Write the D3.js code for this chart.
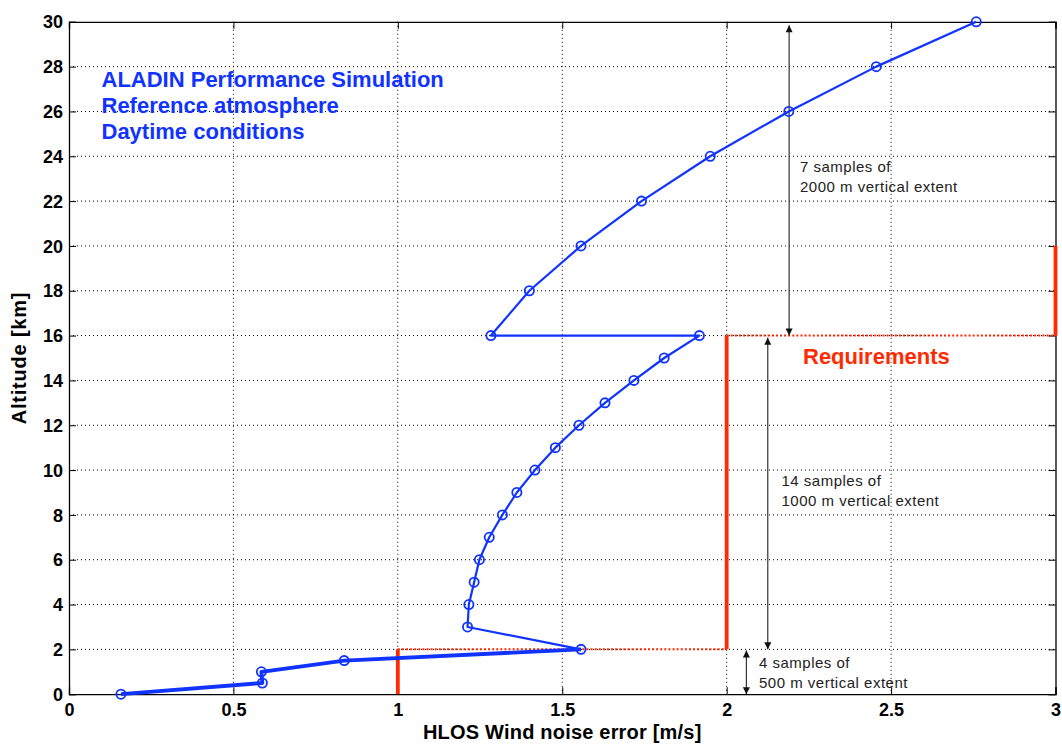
<!DOCTYPE html>
<html>
<head>
<meta charset="utf-8">
<script src="https://cdn.jsdelivr.net/npm/d3@7"></script>
<style>
  html, body { margin: 0; padding: 0; background: #fff; }
  svg { display: block; }
  text { font-family: "Liberation Sans", Arial, sans-serif; }
</style>
</head>
<body>
<svg id="chart" width="1062" height="749"></svg>
<script>
// ---- data ----
const noiseError = [0.158, 0.588, 0.585, 0.837, 1.557, 1.212, 1.216, 1.232, 1.248, 1.278, 1.318, 1.362, 1.417, 1.479, 1.551, 1.630, 1.718, 1.810, 1.917, 1.283, 1.400, 1.557, 1.741, 1.950, 2.189, 2.455, 2.759];
const altitude   = [0, 0.5, 1, 1.5, 2, 3, 4, 5, 6, 7, 8, 9, 10, 11, 12, 13, 14, 15, 16, 16, 18, 20, 22, 24, 26, 28, 30];
const lowRangeCount = 5; // points of the 500 m sampling band (0-2 km)

const reqX = [1, 1, 2, 2, 3, 3];
const reqY = [0, 2, 2, 16, 16, 20];

const xTicks = [0, 0.5, 1, 1.5, 2, 2.5, 3];
const yTicks = [0, 2, 4, 6, 8, 10, 12, 14, 16, 18, 20, 22, 24, 26, 28, 30];

const arrowX    = [2.19, 2.125, 2.06];
const arrowFrom = [16, 2, 0];
const arrowTo   = [29.85, 15.9, 1.95];

const annotationLines = [
  ["7 samples of", "2000 m vertical extent"],
  ["14 samples of", "1000 m vertical extent"],
  ["4 samples of", "500 m vertical extent"]
];
const titleLines = ["ALADIN Performance Simulation", "Reference atmosphere", "Daytime conditions"];
const xLabel = "HLOS Wind noise error [m/s]";
const yLabel = "Altitude [km]";
const reqLabel = "Requirements";

// ---- layout ----
const svg = d3.select("#chart");
const L = 69, R = 1055.5, T = 21.8, B = 694.2;
const x = d3.scaleLinear().domain([0, 3]).range([L, R]);
const y = d3.scaleLinear().domain([0, 30]).range([B, T]);

const BLUE = "#1033ff", RED = "#ff2a00", DARK = "#222";

svg.append("rect").attr("width", 1062).attr("height", 749).attr("fill", "#fff");

// grid
const grid = svg.append("g");
grid.selectAll(".gx").data(xTicks.filter(d => d > 0 && d < 3)).enter().append("line")
  .attr("x1", d => x(d)).attr("x2", d => x(d)).attr("y1", T).attr("y2", B)
  .attr("stroke", "#000").attr("stroke-width", 1).attr("stroke-dasharray", "1,3");
grid.selectAll(".gy").data(yTicks.filter(d => d > 0 && d < 30)).enter().append("line")
  .attr("y1", d => y(d)).attr("y2", d => y(d)).attr("x1", L).attr("x2", R)
  .attr("stroke", "#000").attr("stroke-width", 1).attr("stroke-dasharray", "1,3");

// axes (box with inward ticks)
const tickLen = 7;
const gxB = svg.append("g").attr("transform", `translate(0,${B})`)
  .call(d3.axisBottom(x).tickValues(xTicks).tickSize(-tickLen).tickPadding(9.5).tickFormat(d3.format("")));
const gxT = svg.append("g").attr("transform", `translate(0,${T})`)
  .call(d3.axisTop(x).tickValues(xTicks).tickSize(-tickLen).tickFormat(""));
const gyL = svg.append("g").attr("transform", `translate(${L},0)`)
  .call(d3.axisLeft(y).tickValues(yTicks).tickSize(-tickLen).tickPadding(6));
const gyR = svg.append("g").attr("transform", `translate(${R},0)`)
  .call(d3.axisRight(y).tickValues(yTicks).tickSize(-tickLen).tickFormat(""));
[gxB, gxT, gyL, gyR].forEach(g => {
  g.select(".domain").attr("stroke", "#000").attr("stroke-width", 1.3);
  g.selectAll(".tick line").attr("stroke", "#000").attr("stroke-width", 1);
  g.selectAll(".tick text").attr("fill", "#000")
    .style("font-family", "'Liberation Sans', Arial, sans-serif")
    .style("font-weight", "bold").style("font-size", "18px");
});
gyL.selectAll(".tick text").attr("dy", "0.34em");
gxB.selectAll(".tick text").attr("dy", "0.71em");

// requirement lines
const reqSegs = [];
for (let i = 0; i < reqX.length - 1; i++) reqSegs.push([i, i + 1]);
svg.append("g").selectAll("line").data(reqSegs).enter().append("line")
  .attr("x1", d => x(reqX[d[0]])).attr("y1", d => y(reqY[d[0]]))
  .attr("x2", d => x(reqX[d[1]])).attr("y2", d => y(reqY[d[1]]))
  .attr("stroke", RED)
  .attr("stroke-width", d => reqY[d[0]] === reqY[d[1]] ? 2 : 3.8)
  .attr("stroke-dasharray", d => reqY[d[0]] === reqY[d[1]] ? "2,2.1" : null);

// arrows
const defs = svg.append("defs");
defs.append("marker").attr("id", "ah").attr("viewBox", "0 0 10 10")
  .attr("refX", 10).attr("refY", 5).attr("markerWidth", 10).attr("markerHeight", 7)
  .attr("markerUnits", "userSpaceOnUse").attr("orient", "auto-start-reverse")
  .append("path").attr("d", "M0,0 L10,5 L0,10 Z").attr("fill", "#111");
svg.append("g").selectAll("line").data(arrowX).enter().append("line")
  .attr("x1", d => x(d)).attr("x2", d => x(d))
  .attr("y1", (d, i) => y(arrowFrom[i])).attr("y2", (d, i) => y(arrowTo[i]))
  .attr("stroke", "#333").attr("stroke-width", 1.2)
  .attr("marker-start", "url(#ah)").attr("marker-end", "url(#ah)");

// data line
const pts = noiseError.map((v, i) => [v, altitude[i]]);
const line = d3.line().x(d => x(d[0])).y(d => y(d[1]));
svg.append("path").datum(pts.slice(0, lowRangeCount))
  .attr("d", line).attr("fill", "none").attr("stroke", BLUE)
  .attr("stroke-width", 3.8).attr("stroke-linejoin", "round");
svg.append("path").datum(pts.slice(lowRangeCount - 1))
  .attr("d", line).attr("fill", "none").attr("stroke", BLUE)
  .attr("stroke-width", 2.2).attr("stroke-linejoin", "round");
svg.append("g").selectAll("circle").data(pts).enter().append("circle")
  .attr("cx", d => x(d[0])).attr("cy", d => y(d[1])).attr("r", 4.6)
  .attr("fill", "none").attr("stroke", BLUE).attr("stroke-width", 1.8);

// annotation texts
const annPos = [[800, 172], [781.5, 485.5], [759, 667.5]];
annotationLines.forEach((lines, i) => {
  lines.forEach((t, j) => {
    svg.append("text").attr("x", annPos[i][0]).attr("y", annPos[i][1] + j * 20)
      .attr("fill", DARK).style("font-size", "15px").style("letter-spacing", "0.5px").text(t);
  });
});

// requirements label
svg.append("text").attr("x", 803).attr("y", 364).attr("fill", RED)
  .style("font-size", "22px").style("font-weight", "bold").text(reqLabel);

// title block
titleLines.forEach((t, i) => {
  svg.append("text").attr("x", 101.5).attr("y", 87.3 + i * 25.7).attr("fill", BLUE)
    .style("font-size", "22px").style("font-weight", "bold").text(t);
});

// axis labels
svg.append("text").attr("x", (L + R) / 2).attr("y", 739).attr("text-anchor", "middle")
  .attr("fill", "#000").style("font-size", "20px").style("font-weight", "bold")
  .style("letter-spacing", "0.2px").text(xLabel);
svg.append("text").attr("transform", `translate(26,${(T + B) / 2}) rotate(-90)`)
  .attr("text-anchor", "middle").attr("fill", "#000")
  .style("font-size", "20px").style("font-weight", "bold").style("letter-spacing", "0.8px").text(yLabel);
</script>
</body>
</html>
